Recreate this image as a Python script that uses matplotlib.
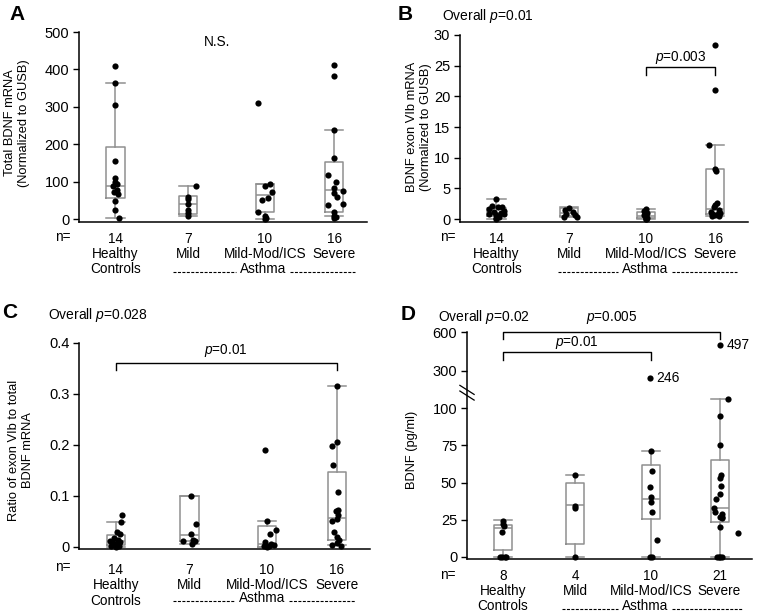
import numpy as np
import matplotlib
matplotlib.use("Agg")
import matplotlib.pyplot as plt
from matplotlib.lines import Line2D
from matplotlib.ticker import NullLocator

plt.rcParams['font.family'] = ['Liberation Sans', 'DejaVu Sans']
plt.rcParams['mathtext.fontset'] = 'custom'
plt.rcParams['mathtext.rm'] = 'Liberation Sans'
plt.rcParams['mathtext.it'] = 'Liberation Sans:italic'

# ---------------- data ----------------
groups = ["Healthy\nControls", "Mild", "Mild-Mod/ICS", "Severe"]
n_abc = [14, 7, 10, 16]
n_d = [8, 4, 10, 21]

# A: total BDNF mRNA
a_healthy = [408, 364, 304, 156, 109, 100, 93, 87, 78, 73, 67, 49, 25, 3]
a_mild = [87, 60, 53, 40, 25, 17, 7]
a_modics = [310, 93, 88, 73, 56, 51, 19, 7, 2, 0]
a_severe = [412, 383, 237, 162, 118, 100, 84, 74, 70, 60, 40, 38, 20, 8, 5, 3]
a_q1 = [56, 13, 19, 19]
a_med = [87, 41, 65, 78]
a_q3 = [193, 62, 93, 153]
a_lo = [3, 7, 0, 7]
a_hi = [364, 88, 93, 237]

# B: BDNF exon VIb mRNA
b_healthy = [3.3, 2.2, 2.0, 1.9, 1.6, 1.3, 1.1, 1.0, 0.9, 0.8, 0.6, 0.4, 0.2, 0.05]
b_mild = [1.8, 1.5, 1.2, 0.9, 0.6, 0.4, 0.35]
b_modics = [1.7, 1.3, 1.0, 0.8, 0.6, 0.4, 0.2, 0.1, 0.05, 0.0]
b_severe = [28.4, 21.0, 12.0, 8.1, 7.9, 2.6, 2.3, 2.0, 1.5, 1.2, 1.0, 0.9, 0.8, 0.6, 0.5, 0.45]
b_q1 = [0.55, 0.45, 0.1, 0.8]
b_med = [1.0, 1.0, 0.55, 1.65]
b_q3 = [1.8, 1.8, 1.15, 8.2]
b_lo = [0.0, 0.35, 0.0, 0.45]
b_hi = [3.3, 2.0, 1.7, 12.0]

# C: ratio exon VIb / total
c_healthy = [0.063, 0.048, 0.03, 0.025, 0.018, 0.013, 0.011, 0.009, 0.007, 0.005, 0.003, 0.002, 0.001, 0.0]
c_mild = [0.099, 0.045, 0.025, 0.014, 0.012, 0.011, 0.006]
c_modics = [0.19, 0.05, 0.034, 0.025, 0.01, 0.006, 0.003, 0.002, 0.001, 0.0]
c_severe = [0.316, 0.206, 0.198, 0.16, 0.108, 0.073, 0.07, 0.062, 0.055, 0.05, 0.03, 0.02, 0.013, 0.008, 0.004, 0.002]
c_q1 = [0.003, 0.011, 0.0, 0.013]
c_med = [0.012, 0.023, 0.006, 0.056]
c_q3 = [0.024, 0.1, 0.042, 0.147]
c_lo = [0.0, 0.006, 0.0, 0.003]
c_hi = [0.049, 0.1, 0.051, 0.316]

# D: BDNF protein (pg/ml)
d_healthy = [24, 22, 20.5, 16.7, 0, 0, 0, 0]
d_mild = [55, 34.5, 33, 0]
d_modics = [246, 71, 57.5, 47, 40.5, 37, 30, 11.5, 0, 0]
d_severe = [497, 106, 95, 75.5, 55, 53, 47.5, 42.5, 39, 33, 30, 29, 27, 26.5, 26, 20, 16, 0, 0, 0, 0]
d_q1 = [4.5, 8.3, 25.7, 23.4]
d_med = [19.4, 34.6, 39, 33]
d_q3 = [21.6, 49.8, 62, 65]
d_lo = [0, 0, 0, 0]
d_hi = [24.5, 55, 71, 106.5]

# horizontal jitter of the dots (layout only)
a_jit = [[0, 0, 0, 0, 0, 0, 0.02, -0.03, 0.02, -0.02, 0.03, 0, 0, 0.05],
         [0.1, 0, 0, 0, 0, 0, 0],
         [-0.09, 0.07, 0.0, 0.1, 0.04, -0.04, -0.1, 0, 0.02, 0.0],
         [0, 0, 0, 0, -0.08, 0.02, 0, 0.12, 0, 0.04, 0.12, -0.08, 0, 0, 0.02, 0]]
b_jit = [[0, -0.06, 0.08, 0.02, -0.1, 0.1, -0.04, 0.06, -0.1, 0.1, 0, 0.03, 0, 0],
         [0, -0.06, 0.05, -0.05, 0.08, 0.1, -0.08],
         [0, -0.02, 0.02, 0, -0.03, 0, 0.02, 0, 0, 0],
         [0, 0, -0.09, 0, 0.01, 0.02, 0, -0.02, 0.05, -0.06, 0.06, -0.04, 0.04, 0, -0.05, 0.05]]
c_jit = [[0.09, 0.07, 0.02, 0.05, -0.02, 0.03, -0.08, 0.06, -0.04, 0, 0.02, -0.06, 0.04, 0],
         [0.02, 0.09, 0.02, 0.05, -0.09, 0.07, 0.04],
         [-0.02, 0, 0.13, 0.04, -0.02, 0.06, 0.1, -0.04, 0.03, 0.0],
         [0, 0, -0.07, -0.05, 0.01, 0.01, -0.01, 0.02, 0, -0.06, -0.04, 0, 0.03, 0, -0.07, 0.05]]
d_jit = [[0, 0, 0.01, -0.01, -0.04, -0.02, 0.02, 0.04],
         [0, 0, 0, 0],
         [-0.02, 0, 0.01, -0.02, 0, 0, 0.01, 0.08, -0.02, 0.02],
         [0, 0.12, 0, 0, 0.02, 0.01, 0.02, 0.01, -0.05, -0.07, -0.06, 0.03, 0.0, 0.04, 0.03, 0.01, 0.26,
          -0.03, -0.01, 0.01, 0.03]]

pos = [1, 2, 3.05, 4]
W, H = 758, 614
GRAY = "#8f8f8f"

fig = plt.figure(figsize=(W / 100, H / 100), dpi=100)


def px(x, y):
    return x / W, 1 - y / H


def rect(x0, y_bottom, w, h):
    return [x0 / W, 1 - y_bottom / H, w / W, h / H]


# broken y axis for panel D: 0-112 linear, gap squeezed, 154-600 compressed
def fwd(y):
    y = np.asarray(y, dtype=float)
    return np.where(y <= 112, y,
                    np.where(y <= 154, 112 + (y - 112) * 0.01, 112.42 + (y - 154) * 0.0873))


def inv(f):
    f = np.asarray(f, dtype=float)
    return np.where(f <= 112, f,
                    np.where(f <= 112.42, 112 + (f - 112) / 0.01, 154 + (f - 112.42) / 0.0873))


def panel(r, vals, jit, q1, med, q3, lo, hi, ns, ylim, yticks, yticklabels, xpad, funcs=None):
    ax = fig.add_axes(r)
    if funcs is not None:
        ax.set_yscale("function", functions=funcs)
    stats = [dict(q1=a, med=m, q3=b, whislo=l, whishi=h, fliers=[])
             for a, m, b, l, h in zip(q1, med, q3, lo, hi)]
    lp = dict(color=GRAY, linewidth=1.1)
    ax.bxp(stats, positions=pos, widths=0.25, capwidths=[0.25] * 4, showfliers=False,
           boxprops=lp, medianprops=lp, whiskerprops=lp, capprops=lp, manage_ticks=False)
    for p, v, j in zip(pos, vals, jit):
        ax.scatter(p + np.array(j), v, s=20, color="black", linewidths=0, zorder=3, clip_on=False)
    ax.set_xlim(0.5, 4.45)
    ax.set_ylim(*ylim)
    ax.set_yticks(yticks, yticklabels)
    ax.yaxis.set_minor_locator(NullLocator())
    ax.set_xticks(pos, [f"{n}\n{g}" for n, g in zip(ns, groups)])
    for t in ax.get_xticklabels():
        t.set_linespacing(1.1)
    ax.tick_params(axis="x", length=0, pad=xpad, labelsize=9.8)
    ax.tick_params(axis="y", length=4, width=1, pad=3, labelsize=10.5)
    for s in ["top", "right"]:
        ax.spines[s].set_visible(False)
    for s in ["left", "bottom"]:
        ax.spines[s].set_linewidth(1.1)
    return ax


def bracket(ax, x0, x1, ybar, ydrop, label, ytext):
    tr = ax.get_xaxis_transform()
    ax.plot([x0, x0, x1, x1], [ydrop, ybar, ybar, ydrop], color="black", lw=1,
            transform=tr, clip_on=False)
    ax.text((x0 + x1) / 2, ytext, label, transform=tr, ha="center", va="center", fontsize=9.8)


def asthma(x0, x1, xc, y):
    for a, b in ((x0, xc - 27), (xc + 27, x1)):
        fig.add_artist(Line2D([a / W, b / W], [1 - (y + 3) / H] * 2, color="black", lw=0.8,
                              dashes=(2.7, 1.3)))
    fig.text(*px(xc, y), "Asthma", ha="center", va="center", fontsize=9.8)


def ylab(x, y, s):
    fig.text(*px(x, y), s, rotation=90, ha="center", va="center", fontsize=9.3,
             multialignment="center", linespacing=1.25)


def label(x, y, s, **kw):
    fig.text(*px(x, y), s, va="center", **kw)


# ---------- A ----------
axA = panel(rect(79, 222, 288, 190), [a_healthy, a_mild, a_modics, a_severe], a_jit,
            a_q1, a_med, a_q3, a_lo, a_hi, n_abc, (-8, 500),
            [0, 100, 200, 300, 400, 500], ["0", "100", "200", "300", "400", "500"], 7.4)
axA.text(0.479, 0.947, "N.S.", transform=axA.transAxes, ha="center", va="center", fontsize=9.8)
ylab(17, 123, "Total BDNF mRNA\n(Normalized to GUSB)")
label(63, 237, "n=", ha="center", fontsize=9.8)
asthma(173, 355, 263, 269)
label(17, 15, "A", ha="center", fontsize=15, fontweight="bold")

# ---------- B ----------
axB = panel(rect(460, 221.5, 288, 186.5), [b_healthy, b_mild, b_modics, b_severe], b_jit,
            b_q1, b_med, b_q3, b_lo, b_hi, n_abc, (-0.4, 30),
            [0, 5, 10, 15, 20, 25, 30], ["0", "5", "10", "15", "20", "25", "30"], 7.4)
bracket(axB, pos[2], pos[3], 0.828, 0.786, "$p$=0.003", 0.88)
ylab(419, 127, "BDNF exon VIb mRNA\n(Normalized to GUSB)")
label(448, 237, "n=", ha="center", fontsize=9.8)
asthma(558, 737, 645, 269)
label(405, 15, "B", ha="center", fontsize=15, fontweight="bold")
label(442, 16, "Overall $p$=0.01", ha="left", fontsize=10)

# ---------- C ----------
axC = panel(rect(79, 549, 291, 206), [c_healthy, c_mild, c_modics, c_severe], c_jit,
            c_q1, c_med, c_q3, c_lo, c_hi, n_abc, (-0.004, 0.4),
            [0, 0.1, 0.2, 0.3, 0.4], ["0", "0.1", "0.2", "0.3", "0.4"], 10.3)
bracket(axC, pos[0], pos[3], 0.903, 0.869, "$p$=0.01", 0.966)
ylab(21, 450, "Ratio of exon VIb to total\nBDNF mRNA")
label(63, 567, "n=", ha="center", fontsize=9.8)
asthma(173, 355, 262, 598)
label(10, 313, "C", ha="center", fontsize=15, fontweight="bold")
label(48, 315, "Overall $p$=0.028", ha="left", fontsize=10)

# ---------- D (broken y axis) ----------
axD = panel(rect(467, 559, 285, 227), [d_healthy, d_mild, d_modics, d_severe], d_jit,
            d_q1, d_med, d_q3, d_lo, d_hi, n_d, (-1.5, 600),
            [0, 25, 50, 75, 100, 300, 600], ["0", "25", "50", "75", "100", "300", "600"], 7.4,
            funcs=(fwd, inv))
axD.annotate("246", (pos[2] - 0.02, d_modics[0]), xytext=(5, 0), textcoords="offset points",
             va="center", ha="left", fontsize=10)
axD.annotate("497", (pos[3], d_severe[0]), xytext=(5, 0), textcoords="offset points",
             va="center", ha="left", fontsize=10)
for dy in (0.0, -0.025):
    axD.plot([-0.025, 0.025], [0.765 + dy, 0.725 + dy], transform=axD.transAxes,
             color="black", lw=0.9, clip_on=False)
bracket(axD, pos[0], pos[3], 1.0, 0.969, "$p$=0.005", 1.066)
bracket(axD, pos[0], pos[2], 0.912, 0.877, "$p$=0.01", 0.952)
ylab(412, 450, "BDNF (pg/ml)")
label(448, 575, "n=", ha="center", fontsize=9.8)
asthma(562, 742, 645, 606)
label(408, 315, "D", ha="center", fontsize=15, fontweight="bold")
label(438, 317, "Overall $p$=0.02", ha="left", fontsize=10)

fig.savefig("out.png", dpi=100)
